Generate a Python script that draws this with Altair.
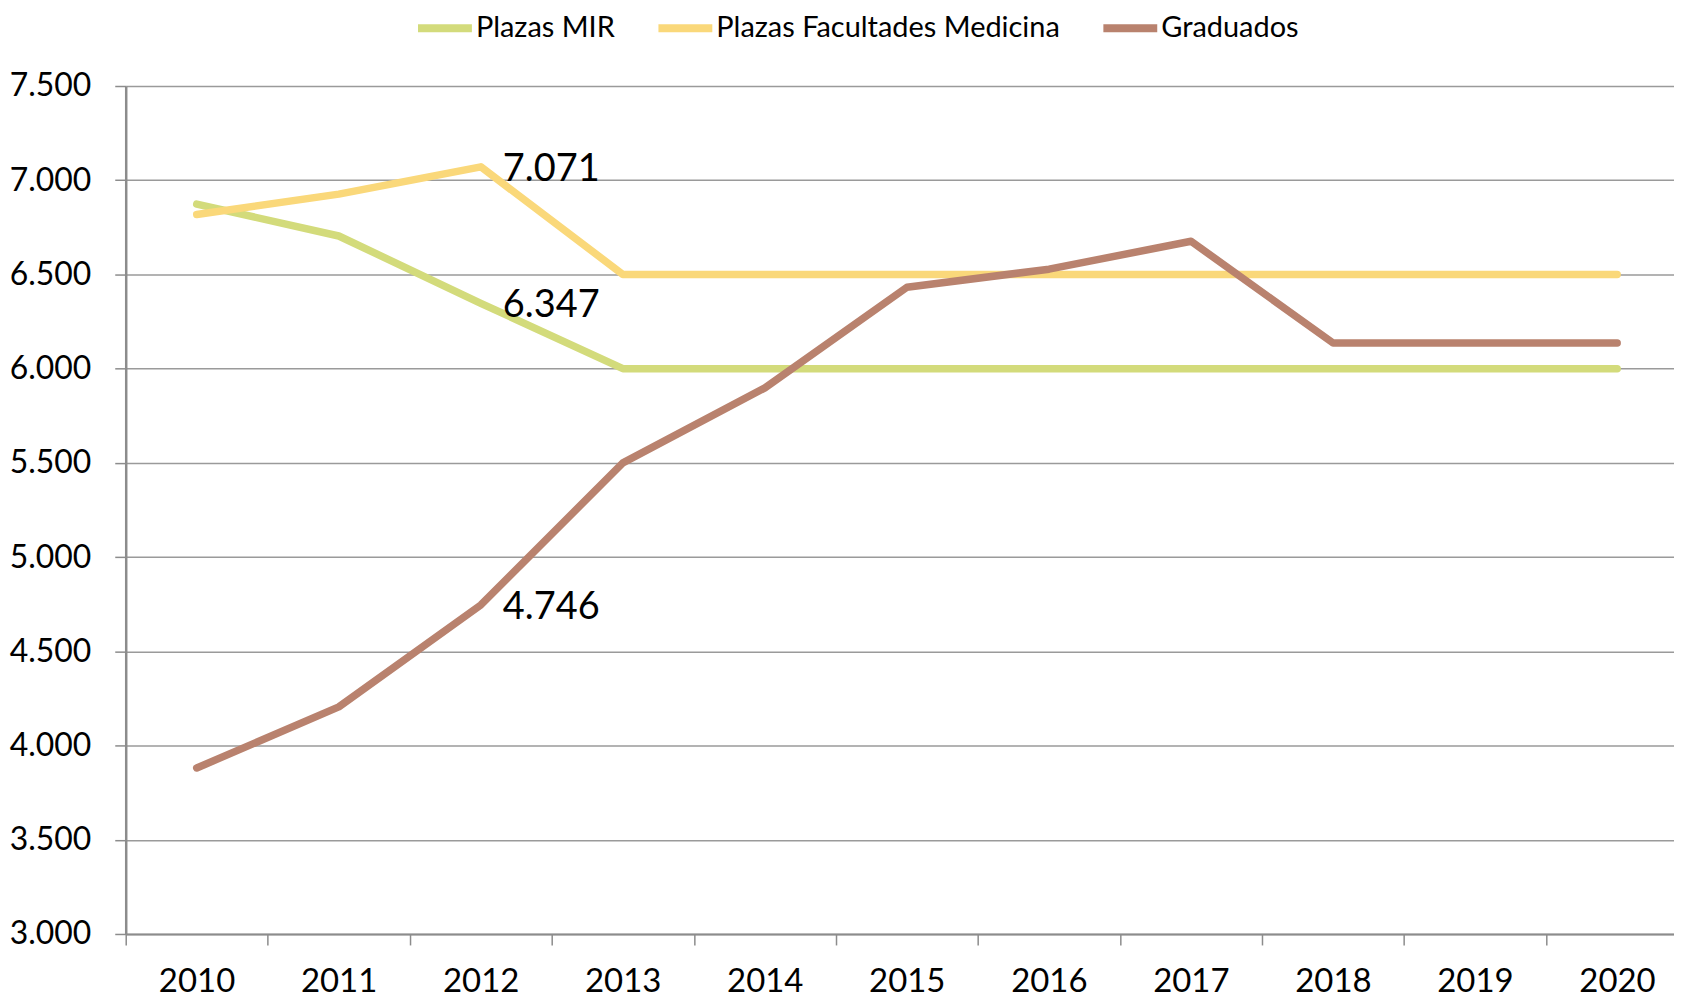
import altair as alt
import pandas as pd

years = list(range(2010, 2021))
plazas_mir = [6873, 6704, 6347, 6000, 6000, 6000, 6000, 6000, 6000, 6000, 6000]
plazas_facultades = [6818, 6926, 7071, 6500, 6500, 6500, 6500, 6500, 6500, 6500, 6500]
graduados = [3881, 4205, 4746, 5500, 5898, 6432, 6528, 6676, 6136, 6136, 6136]

series_names = ["Plazas MIR", "Plazas Facultades Medicina", "Graduados"]
series_colors = ["#d3db7b", "#fad87a", "#b9826e"]
label_year = 2012

y_ticks = [3000, 3500, 4000, 4500, 5000, 5500, 6000, 6500, 7000, 7500]
x_tick_bounds = [2009.5, 2010.5, 2011.5, 2012.5, 2013.5, 2014.5,
                 2015.5, 2016.5, 2017.5, 2018.5, 2019.5]

rows = []
for name, vals in zip(series_names, [plazas_mir, plazas_facultades, graduados]):
    for i, (yr, v) in enumerate(zip(years, vals)):
        rows.append({"year": yr, "value": v, "series": name, "order": i})
df = pd.DataFrame(rows)

x_enc = alt.X(
    "year:Q",
    scale=alt.Scale(domain=[2009.5, 2020.4], nice=False, zero=False),
    axis=alt.Axis(
        title=None,
        values=x_tick_bounds,
        labelExpr="format(datum.value + 0.5, 'd')",
        labelOffset=71,
        labelFlush=False,
        labelOverlap=False,
        grid=False,
        tickSize=11,
        tickColor="#8c8c8c",
        tickWidth=1.5,
        domainColor="#8c8c8c",
        domainWidth=2,
        labelPadding=21,
        labelFontSize=33,
    ),
)
y_enc = alt.Y(
    "value:Q",
    scale=alt.Scale(domain=[3000, 7500], nice=False, zero=False),
    axis=alt.Axis(
        title=None,
        values=y_ticks,
        labelExpr="replace(format(datum.value, ','), ',', '.')",
        grid=True,
        gridColor="#9a9a9a",
        gridWidth=1.5,
        tickSize=11,
        tickColor="#8c8c8c",
        tickWidth=1.5,
        domainColor="#8c8c8c",
        domainWidth=2.5,
        labelPadding=24,
        labelFontSize=32,
    ),
)

color_enc = alt.Color(
    "series:N",
    scale=alt.Scale(domain=series_names, range=series_colors),
    legend=alt.Legend(
        title=None,
        orient="none",
        legendX=289,
        legendY=-89,
        direction="horizontal",
        symbolType="stroke",
        symbolSize=2916,
        symbolStrokeWidth=8,
        labelFontSize=29,
        labelFont="Lato",
        labelColor="black",
        columnPadding=27,
        labelOffset=0,
        labelLimit=0,
    ),
)

lines = alt.Chart(df).mark_line(
    strokeWidth=7.5, strokeCap="round", strokeJoin="round"
).encode(x=x_enc, y=y_enc, color=color_enc, order="order:Q")

labels = alt.Chart(df).transform_filter(
    alt.datum.year == label_year
).transform_calculate(
    label="replace(format(datum.value, ','), ',', '.')"
).mark_text(
    align="left", baseline="middle", dx=22, dy=3, fontSize=38, font="Lato", color="black"
).encode(
    x=alt.X("year:Q"),
    y=alt.Y("value:Q"),
    text="label:N",
)

chart = alt.layer(lines, labels).properties(
    width=1552,
    height=850,
    autosize=alt.AutoSizeParams(type="none"),
    padding={"left": 118, "top": 77, "right": 0, "bottom": 66},
).configure_view(stroke=None).configure_axis(
    labelFont="Lato", labelColor="black"
)

chart.save("out.html", embed_options={"renderer": "svg", "actions": False})
